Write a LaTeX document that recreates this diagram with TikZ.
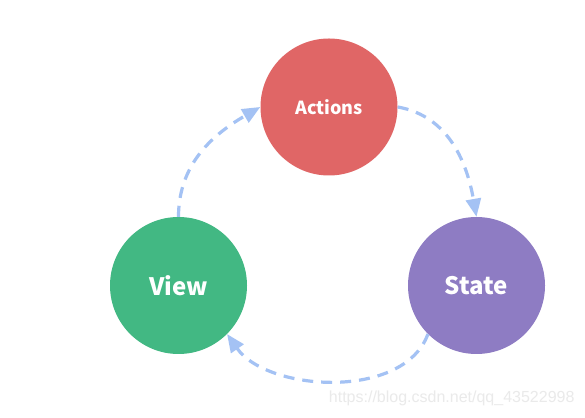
\documentclass[tikz,border=0pt]{standalone}
\usepackage{fontspec}
\setmainfont{Liberation Sans}
\newfontfamily\bubblefont{Noto Sans CJK SC}
\usepackage{tikz}
\usetikzlibrary{arrows.meta}
\definecolor{flowred}{RGB}{224,102,102}
\definecolor{flowgreen}{RGB}{66,184,131}
\definecolor{flowpurple}{RGB}{142,124,195}
\definecolor{flowblue}{RGB}{164,194,244}
\definecolor{flowmark}{RGB}{234,234,234}

\begin{document}
\begin{tikzpicture}[x=1pt,y=1pt,
  every node/.style={font=\bubblefont\bfseries, text=white},
  bubble/.style={circle, minimum size=137pt, inner sep=0pt},
  flow/.style={draw=flowblue, line width=3.2pt, dash pattern=on 11pt off 8pt,
    -{Triangle[length=18pt,width=15pt]}}]
\useasboundingbox (0,0) rectangle (585,417);
\fill[white] (0,0) rectangle (585,417);

\node[bubble, fill=flowred, font=\bubblefont\bfseries\fontsize{18}{20}\selectfont]
  (actions) at (329,310) {Actions};
\node[bubble, fill=flowgreen, font=\bubblefont\bfseries\fontsize{24}{26}\selectfont]
  (view) at (178.5,131.5) {View};
\node[bubble, fill=flowpurple, font=\bubblefont\bfseries\fontsize{24}{26}\selectfont]
  (state) at (476.5,131.5) {State};

\draw[flow] (view.north) to[out=90, in=-150] (actions.west);
\draw[flow] (actions.east) to[out=-10, in=100] (state.north);
\draw[flow] (state.225) to[out=-110, in=-55, looseness=0.9] (view.-45);

\node[anchor=east, text=flowmark, font=\fontsize{16}{18}\selectfont]
  (mark) at (578,19) {https://blog.csdn.net/qq\_43522998};
\end{tikzpicture}
\end{document}
